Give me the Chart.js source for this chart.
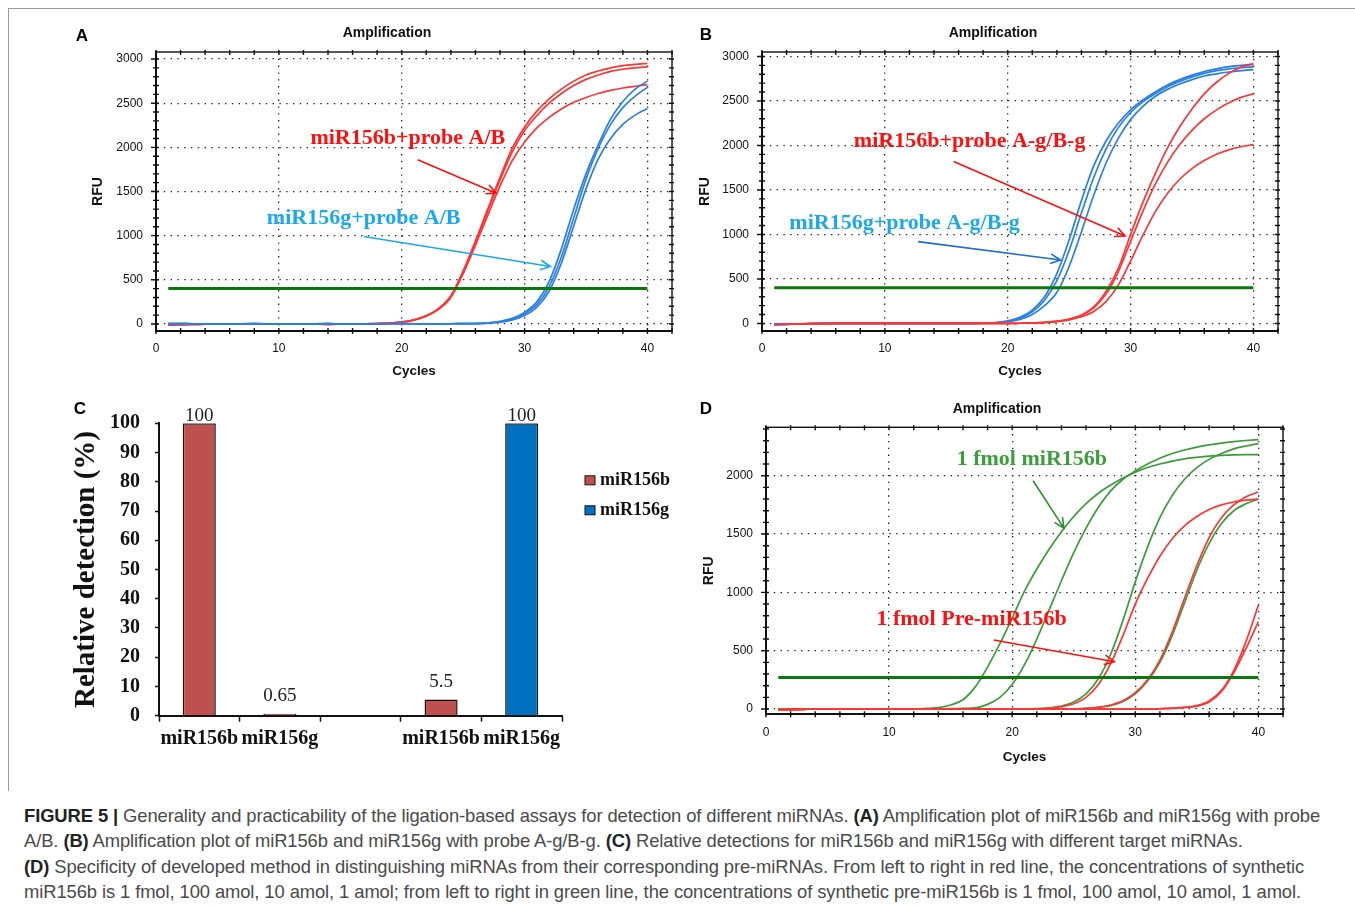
<!DOCTYPE html>
<html>
<head>
<meta charset="utf-8">
<script src="https://cdn.jsdelivr.net/npm/chart.js@4.4.1/dist/chart.umd.min.js"></script>
<style>
  body { margin: 0; background: #fff; width: 1355px; height: 907px; position: relative; overflow: hidden; font-family: "Liberation Sans", Arial, sans-serif; }
  .frame { position: absolute; left: 8px; top: 8px; width: 1360px; height: 782px; border-top: 1px solid #9a9a9a; border-left: 1px solid #9a9a9a; }
  canvas { position: absolute; }
  .tag { position: absolute; font: bold 17px "Liberation Sans", Arial, sans-serif; color: #000; transform: translate(-50%, -50%); }
  .caption { position: absolute; left: 24px; top: 803px; font-size: 18.4px; line-height: 25.3px; color: #4a4a4a; white-space: nowrap; letter-spacing: -0.1px; }
  .caption b { color: #222; }
</style>
</head>
<body>
<div class="frame"></div>
<canvas id="chartA" width="640" height="370" style="left:60px;top:15px"></canvas>
<canvas id="chartB" width="640" height="370" style="left:666px;top:15px"></canvas>
<canvas id="chartC" width="640" height="365" style="left:60px;top:395px"></canvas>
<canvas id="chartD" width="640" height="385" style="left:670px;top:390px"></canvas>
<div class="tag" style="left:82px;top:36px">A</div>
<div class="tag" style="left:706px;top:35px">B</div>
<div class="tag" style="left:80px;top:409px">C</div>
<div class="tag" style="left:706px;top:409px">D</div>
<div class="caption">
<b>FIGURE 5 |</b> Generality and practicability of the ligation-based assays for detection of different miRNAs. <b>(A)</b> Amplification plot of miR156b and miR156g with probe<br>
A/B. <b>(B)</b> Amplification plot of miR156b and miR156g with probe A-g/B-g. <b>(C)</b> Relative detections for miR156b and miR156g with different target miRNAs.<br>
<b>(D)</b> Specificity of developed method in distinguishing miRNAs from their corresponding pre-miRNAs. From left to right in red line, the concentrations of synthetic<br>
miR156b is 1 fmol, 100 amol, 10 amol, 1 amol; from left to right in green line, the concentrations of synthetic pre-miR156b is 1 fmol, 100 amol, 10 amol, 1 amol.
</div>

<script>
// ---- data ----
const cycles = [1,2,3,4,5,6,7,8,9,10,11,12,13,14,15,16,17,18,19,20,21,22,23,24,25,26,27,28,29,30,31,32,33,34,35,36,37,38,39,40];
const cycleTicks = [0, 10, 20, 30, 40];

// Panel A: probe A/B
const aThreshold = 400;
const aRfuTicks = [0, 500, 1000, 1500, 2000, 2500, 3000];
const aRed1 = [-12,-8,-5,-3,0,0,0,2,0,0,0,0,-3,-5,-3,0,2,5,10,22,48,95,175,320,600,940,1300,1660,1990,2230,2410,2550,2660,2750,2820,2865,2900,2925,2940,2952];
const aRed2 = [-12,-8,-5,-3,0,0,0,2,0,0,0,0,-3,-5,-3,0,2,5,9,20,45,90,170,310,585,920,1280,1630,1950,2190,2360,2500,2610,2700,2770,2820,2860,2885,2900,2912];
const aRed3 = [-10,-7,-5,-3,0,0,0,2,0,0,0,0,-3,-5,-3,0,2,5,9,20,44,88,165,300,570,890,1230,1560,1850,2060,2220,2340,2435,2510,2565,2610,2645,2672,2692,2710];
const aBlue1 = [5,3,2,0,0,0,2,3,2,0,0,0,2,3,0,0,0,0,2,3,2,0,0,2,3,5,12,30,65,130,250,480,850,1300,1700,2030,2320,2520,2660,2750];
const aBlue2 = [5,3,2,0,0,0,2,3,2,0,0,0,2,3,0,0,0,0,2,3,2,0,0,2,3,4,10,25,55,115,220,420,760,1200,1640,1990,2260,2450,2580,2680];
const aBlue3 = [5,3,2,0,0,0,2,3,2,0,0,0,2,3,0,0,0,0,2,3,2,0,0,2,3,4,8,20,45,95,190,370,690,1110,1530,1870,2100,2260,2365,2440];

// Panel B: probe A-g/B-g
const bThreshold = 400;
const bRfuTicks = [0, 500, 1000, 1500, 2000, 2500, 3000];
const bBlue1 = [-15,-10,-5,-3,0,0,0,0,0,0,0,0,0,0,0,0,0,3,10,30,70,150,300,560,940,1380,1770,2050,2250,2400,2510,2600,2680,2740,2790,2830,2860,2885,2900,2912];
const bBlue2 = [-15,-10,-5,-3,0,0,0,0,0,0,0,0,0,0,0,0,0,2,8,25,60,130,260,480,820,1240,1640,1960,2200,2370,2490,2580,2660,2720,2770,2810,2840,2860,2873,2882];
const bBlue3 = [-15,-10,-5,-3,0,0,0,0,0,0,0,0,0,0,0,0,0,2,6,20,45,100,200,350,640,1030,1440,1800,2080,2290,2440,2550,2630,2690,2740,2780,2805,2825,2840,2852];
const bRed1 = [-10,-8,-5,-3,-2,0,0,0,0,0,0,0,0,0,0,0,0,0,0,0,2,5,12,25,50,95,185,360,620,1000,1360,1680,1970,2210,2410,2580,2710,2810,2880,2920];
const bRed2 = [-10,-8,-5,-3,-2,0,0,0,0,0,0,0,0,0,0,0,0,0,0,0,2,5,11,23,47,90,175,330,580,920,1260,1560,1810,2010,2170,2300,2400,2480,2540,2580];
const bRed3 = [-10,-8,-5,-3,-2,0,0,0,0,0,0,0,0,0,0,0,0,0,0,0,2,4,9,20,40,75,135,245,430,700,990,1250,1460,1620,1740,1830,1900,1950,1985,2010];

// Panel C: relative detection (%)
const cCategories = ['miR156b', 'miR156g', '', 'miR156b', 'miR156g'];
const cMiR156b = [100, 0.65, null, 5.5, null];
const cMiR156g = [null, null, null, null, 100];

// Panel D: miRNA vs pre-miRNA
const dThreshold = 270;
const dRfuTicks = [0, 500, 1000, 1500, 2000];
const dGreen1 = [0,0,0,0,0,0,0,0,0,0,0,0,5,12,35,80,190,360,560,780,1010,1200,1370,1520,1650,1760,1850,1920,1980,2030,2070,2100,2125,2145,2158,2168,2174,2178,2180,2181];
const dGreen2 = [0,0,0,0,0,0,0,0,0,0,0,0,0,2,4,6,10,40,100,210,380,600,850,1100,1340,1550,1730,1870,1970,2040,2100,2150,2190,2220,2245,2265,2280,2292,2302,2310];
const dGreen3 = [0,0,0,0,0,0,0,0,0,0,0,0,0,0,0,0,0,0,0,0,2,3,10,25,60,130,260,470,760,1090,1390,1640,1830,1970,2070,2140,2190,2230,2255,2275];
const dGreen4 = [0,0,0,0,0,0,0,0,0,0,0,0,0,0,0,0,0,0,0,0,0,0,0,0,2,5,15,30,65,130,240,400,630,910,1190,1420,1590,1700,1760,1800];
const dRed1 = [-5,-5,-3,0,0,0,0,0,0,0,0,0,0,0,0,0,0,0,0,0,0,2,8,20,45,100,210,390,630,900,1120,1310,1460,1570,1650,1710,1750,1775,1790,1800];
const dRed2 = [-5,-5,-3,0,0,0,0,0,0,0,0,0,0,0,0,0,0,0,0,0,0,0,0,0,2,5,15,35,70,140,250,420,660,950,1230,1470,1640,1750,1820,1860];
const dRed3 = [-5,-5,-3,0,0,0,0,0,0,0,0,0,0,0,0,0,0,0,0,0,0,0,0,0,0,0,0,0,0,0,0,3,8,15,30,70,160,330,580,890];
const dRed4 = [-5,-5,-3,0,0,0,0,0,0,0,0,0,0,0,0,0,0,0,0,0,0,0,0,0,0,0,0,0,0,0,0,2,6,12,25,60,150,310,520,750];

// ---- styles ----
const RED = '#ff3434';
const BLUE = '#2a7fe3';
const GREEN = '#3c9c3c';
const THRESH = '#0b780b';
const SKY = '#1aa9ec';
const serif = '"Liberation Serif", "Times New Roman", serif';
const sans = '"Liberation Sans", Arial, sans-serif';

function curve(values, color) {
  return {
    data: values.map((v, i) => ({ x: cycles[i], y: v })),
    borderColor: color, borderWidth: 1.7, pointRadius: 0,
    cubicInterpolationMode: 'monotone', fill: false
  };
}

function threshold(level) {
  return {
    data: [{ x: cycles[0], y: level }, { x: cycles[cycles.length - 1], y: level }],
    borderColor: THRESH, borderWidth: 3, pointRadius: 0
  };
}

// box around the plot plus the small tick marks on every side
const frameTicks = {
  id: 'frameTicks',
  afterDatasetsDraw(chart, args, opts) {
    const { ctx, chartArea: a, scales: { x, y } } = chart;
    ctx.save();
    ctx.strokeStyle = '#111';
    ctx.lineWidth = 1.4;
    ctx.strokeRect(a.left, a.top, a.width, a.height);
    ctx.beginPath();
    for (let v = 0; v <= x.max; v += 2) {
      const px = x.getPixelForValue(v);
      ctx.moveTo(px, a.bottom - 3); ctx.lineTo(px, a.bottom + 3);
      ctx.moveTo(px, a.top - 2); ctx.lineTo(px, a.top + 3);
    }
    for (let v = 0; v <= y.max; v += 100) {
      const py = y.getPixelForValue(v);
      const big = v % 500 === 0 ? 2 : 0;
      ctx.moveTo(a.left - 3 - big, py); ctx.lineTo(a.left + 3, py);
      ctx.moveTo(a.right - 3, py); ctx.lineTo(a.right + 2, py);
    }
    ctx.stroke();
    ctx.restore();
  }
};

// callout texts and arrows, placed in cycle / RFU units
const notes = {
  id: 'notes',
  afterDraw(chart, args, opts) {
    const { ctx, scales: { x, y } } = chart;
    (opts.items || []).forEach(n => {
      ctx.save();
      if (n.text) {
        ctx.font = 'bold 22px ' + serif;
        ctx.fillStyle = n.color;
        ctx.textAlign = 'center';
        ctx.textBaseline = 'middle';
        ctx.fillText(n.text, x.getPixelForValue(n.x), y.getPixelForValue(n.y));
      } else {
        const x1 = x.getPixelForValue(n.from[0]), y1 = y.getPixelForValue(n.from[1]);
        const x2 = x.getPixelForValue(n.to[0]), y2 = y.getPixelForValue(n.to[1]);
        const ang = Math.atan2(y2 - y1, x2 - x1);
        ctx.strokeStyle = n.color;
        ctx.lineWidth = 1.6;
        ctx.beginPath();
        ctx.moveTo(x1, y1); ctx.lineTo(x2, y2);
        ctx.moveTo(x2 - 11 * Math.cos(ang - 0.45), y2 - 11 * Math.sin(ang - 0.45));
        ctx.lineTo(x2, y2);
        ctx.lineTo(x2 - 11 * Math.cos(ang + 0.45), y2 - 11 * Math.sin(ang + 0.45));
        ctx.stroke();
      }
      ctx.restore();
    });
  }
};

function ampChart(id, g, rfuTicks, datasets, items) {
  return new Chart(document.getElementById(id), {
    type: 'line',
    data: { datasets: datasets },
    plugins: [frameTicks, notes],
    options: {
      responsive: false,
      animation: false,
      layout: { padding: { left: g.pl, right: g.pr, top: 0, bottom: 0 } },
      plugins: {
        legend: { display: false },
        tooltip: { enabled: false },
        title: {
          display: true, text: 'Amplification', color: '#111',
          font: { family: sans, size: 14, weight: 'bold' },
          padding: { top: g.titleTop, bottom: g.titleBottom }
        },
        notes: { items: items }
      },
      scales: {
        x: {
          type: 'linear', min: 0, max: 42,
          afterBuildTicks: ax => { ax.ticks = cycleTicks.map(v => ({ value: v })); },
          afterFit: ax => { ax.height = g.xH; },
          ticks: { color: '#111', padding: g.xPad, maxRotation: 0, autoSkip: false, callback: v => String(v), font: { family: sans, size: 12 } },
          grid: { color: '#222', lineWidth: 1.3, drawTicks: false },
          border: { color: '#111', width: 2, dash: [1.4, 5.4] },
          title: {
            display: true, text: 'Cycles', color: '#111',
            font: { family: sans, size: 13.5, weight: 'bold' },
            padding: { top: 0, bottom: g.cyclesPad }
          }
        },
        y: {
          min: g.yMin, max: g.yMax,
          afterBuildTicks: ax => { ax.ticks = rfuTicks.map(v => ({ value: v })); },
          afterFit: ax => { ax.width = g.yW; },
          ticks: { color: '#111', padding: 13, autoSkip: false, callback: v => String(v), font: { family: sans, size: 12 } },
          grid: { color: '#222', lineWidth: 1.3, drawTicks: false },
          border: { color: '#111', width: 2, dash: [1.4, 5.4] },
          title: {
            display: true, text: 'RFU', color: '#111',
            font: { family: sans, size: 14, weight: 'bold' },
            padding: { top: g.rfuPad, bottom: 0 }
          }
        }
      }
    }
  });
}

ampChart('chartA',
  { pl: 42, pr: 28, yW: 54, xH: 54, titleTop: 9.6, titleBottom: 10.6, rfuPad: -12.4, cyclesPad: 5.9, xPad: 10, yMin: -80, yMax: 3080 },
  aRfuTicks,
  [threshold(aThreshold), curve(aBlue1, BLUE), curve(aBlue2, BLUE), curve(aBlue3, BLUE),
   curve(aRed1, RED), curve(aRed2, RED), curve(aRed3, RED)],
  [
    { text: 'miR156b+probe A/B', x: 20.5, y: 2100, color: '#ff1010' },
    { from: [21.3, 1859], to: [27.7, 1481], color: '#ff1010' },
    { text: 'miR156g+probe A/B', x: 16.9, y: 1198, color: SKY },
    { from: [16.9, 990], to: [32.1, 650], color: SKY }
  ]);

ampChart('chartB',
  { pl: 42, pr: 28, yW: 54, xH: 54, titleTop: 9.6, titleBottom: 10.6, rfuPad: -11.4, cyclesPad: 5.2, xPad: 10, yMin: -85, yMax: 3050 },
  bRfuTicks,
  [threshold(bThreshold), curve(bRed1, RED), curve(bRed2, RED), curve(bRed3, RED),
   curve(bBlue1, BLUE), curve(bBlue2, BLUE), curve(bBlue3, BLUE)],
  [
    { text: 'miR156b+probe A-g/B-g', x: 16.9, y: 2044, color: '#ff1010' },
    { from: [15.6, 1819], to: [29.55, 982], color: '#ff1010' },
    { text: 'miR156g+probe A-g/B-g', x: 11.6, y: 1125, color: SKY },
    { from: [12.7, 919], to: [24.3, 712], color: '#1f6fc4' }
  ]);

ampChart('chartD',
  { pl: 41, pr: 27, yW: 55, xH: 60.7, titleTop: 10.6, titleBottom: 9.9, rfuPad: -10.4, cyclesPad: 9.9, xPad: 11.5, yMin: -45, yMax: 2415 },
  dRfuTicks,
  [threshold(dThreshold), curve(dRed1, RED), curve(dRed2, RED), curve(dRed3, RED), curve(dRed4, RED),
   curve(dGreen1, GREEN), curve(dGreen2, GREEN), curve(dGreen3, GREEN), curve(dGreen4, GREEN)],
  [
    { text: '1 fmol miR156b', x: 21.6, y: 2137, color: '#3a9f3a' },
    { from: [21.7, 1957], to: [24.2, 1551], color: '#2f8f2f' },
    { text: '1 fmol Pre-miR156b', x: 16.7, y: 773, color: '#ff1010' },
    { from: [18.5, 592], to: [28.3, 406], color: '#ff1010' }
  ]);

// ---- panel C: bar chart ----
const barValues = {
  id: 'barValues',
  afterDatasetsDraw(chart) {
    const { ctx, chartArea } = chart;
    ctx.save();
    ctx.font = '19px ' + serif;
    ctx.fillStyle = '#222';
    ctx.textAlign = 'center';
    ctx.textBaseline = 'middle';
    chart.data.datasets.forEach((ds, i) => {
      chart.getDatasetMeta(i).data.forEach((bar, j) => {
        const v = ds.data[j];
        if (v == null) return;
        ctx.fillText(String(v), bar.x, Math.max(bar.y - 17.5, chartArea.top - 7.6));
      });
    });
    ctx.restore();
  }
};

const sideLegend = {
  id: 'sideLegend',
  afterDraw(chart) {
    const { ctx, chartArea: a } = chart;
    ctx.save();
    chart.data.datasets.forEach((ds, i) => {
      const y = a.top + 57 + i * 30;
      ctx.fillStyle = ds.backgroundColor;
      ctx.fillRect(a.right + 23, y - 4.5, 10, 9);
      ctx.strokeStyle = '#111';
      ctx.lineWidth = 1;
      ctx.strokeRect(a.right + 23, y - 4.5, 10, 9);
      ctx.font = 'bold 18px ' + serif;
      ctx.fillStyle = '#111';
      ctx.textAlign = 'left';
      ctx.textBaseline = 'middle';
      ctx.fillText(ds.label, a.right + 38, y);
    });
    ctx.restore();
  }
};

new Chart(document.getElementById('chartC'), {
  type: 'bar',
  data: {
    labels: cCategories,
    datasets: [
      { label: 'miR156b', data: cMiR156b, backgroundColor: '#c0504d', borderColor: '#111', borderWidth: 1.5 },
      { label: 'miR156g', data: cMiR156g, backgroundColor: '#0070c0', borderColor: '#111', borderWidth: 1.5 }
    ]
  },
  plugins: [barValues, sideLegend],
  options: {
    responsive: false,
    animation: false,
    barPercentage: 0.41,
    categoryPercentage: 1,
    layout: { padding: { left: 0, right: 138, top: 28.3, bottom: 0 } },
    plugins: { legend: { display: false }, tooltip: { enabled: false } },
    scales: {
      x: {
        stacked: true,
        offset: true,
        afterFit: ax => { ax.height = 44.3; },
        ticks: { color: '#111', padding: 5, maxRotation: 0, autoSkip: false, font: { family: serif, size: 20, weight: 'bold' } },
        grid: { offset: true, drawOnChartArea: false, drawTicks: true, tickLength: 6, tickColor: '#111', tickWidth: 1.5 },
        border: { color: '#111', width: 2 }
      },
      y: {
        stacked: true,
        min: 0, max: 100,
        afterFit: ax => { ax.width = 99; },
        ticks: { stepSize: 10, color: '#111', padding: 15, font: { family: serif, size: 20, weight: 'bold' } },
        grid: { drawOnChartArea: false, drawTicks: true, tickLength: 4, tickColor: '#111', tickWidth: 1.5 },
        border: { color: '#111', width: 2 },
        title: {
          display: true, text: 'Relative detection (%)', color: '#111',
          font: { family: serif, size: 29, weight: 'bold' },
          padding: { top: 9.6, bottom: 0 }
        }
      }
    }
  }
});
</script>
</body>
</html>
